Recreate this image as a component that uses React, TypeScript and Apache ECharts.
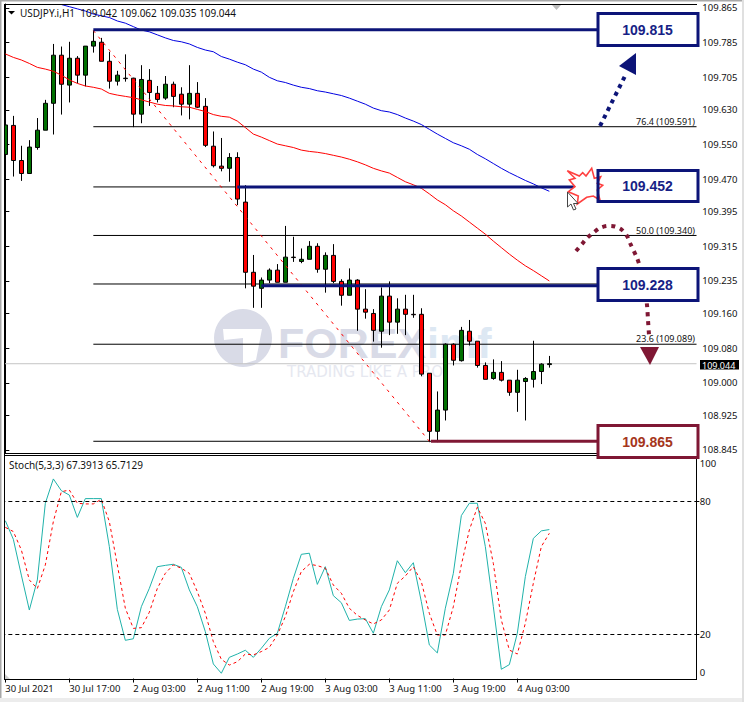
import React, { useEffect, useRef } from "react";
import * as echarts from "echarts";

const timeLabels = ["30 Jul 2021", "30 Jul 17:00", "2 Aug 03:00", "2 Aug 11:00", "2 Aug 19:00", "3 Aug 03:00", "3 Aug 11:00", "3 Aug 19:00", "4 Aug 03:00"];
const slotCount = 87;
const categories = Array.from({ length: slotCount }, (_, i) => (i % 8 === 0 ? timeLabels[i / 8] ?? "" : ""));

const opens = [109.527,109.594,109.513,109.483,109.543,109.583,109.645,109.756,109.687,109.749,109.710,109.777,109.786,109.742,109.696,109.703,109.703,109.620,109.698,109.668,109.657,109.689,109.666,109.643,109.668,109.638,109.546,109.500,109.495,109.520,109.417,109.255,109.218,109.237,109.260,109.232,109.290,109.280,109.285,109.315,109.262,109.294,109.234,109.202,109.237,109.170,109.160,109.119,109.200,109.140,109.170,109.158,109.158,109.022,108.888,108.937,109.089,109.051,109.119,109.096,109.040,109.010,109.024,109.006,108.978,109.003,109.008,109.026,109.042];
const closes = [109.595,109.513,109.483,109.544,109.583,109.645,109.756,109.689,109.749,109.710,109.777,109.788,109.742,109.696,109.710,109.702,109.620,109.700,109.670,109.654,109.689,109.661,109.643,109.668,109.636,109.548,109.501,109.495,109.520,109.424,109.255,109.223,109.237,109.260,109.232,109.290,109.289,109.285,109.315,109.262,109.294,109.234,109.202,109.237,109.170,109.163,109.121,109.200,109.140,109.170,109.158,109.157,109.020,108.888,108.937,109.089,109.052,109.121,109.096,109.040,109.008,109.024,109.006,108.978,109.006,109.010,109.026,109.043,109.044];
const highs = [109.614,109.616,109.547,109.560,109.611,109.653,109.782,109.776,109.787,109.754,109.777,109.813,109.796,109.764,109.720,109.758,109.704,109.733,109.724,109.685,109.708,109.695,109.682,109.733,109.694,109.657,109.580,109.565,109.530,109.532,109.456,109.295,109.243,109.264,109.274,109.362,109.337,109.310,109.327,109.322,109.301,109.320,109.239,109.264,109.239,109.216,109.170,109.220,109.234,109.195,109.203,109.203,109.172,109.022,108.980,109.091,109.091,109.129,109.145,109.096,109.047,109.054,109.050,109.006,109.030,109.013,109.097,109.045,109.062];
const lows = [109.510,109.476,109.466,109.483,109.538,109.583,109.573,109.619,109.647,109.691,109.684,109.762,109.742,109.679,109.686,109.695,109.590,109.599,109.639,109.647,109.653,109.636,109.617,109.608,109.634,109.544,109.497,109.488,109.464,109.410,109.218,109.173,109.173,109.230,109.232,109.232,109.279,109.276,109.285,109.254,109.208,109.230,109.178,109.202,109.120,109.148,109.095,109.081,109.110,109.113,109.110,109.150,109.015,108.863,108.863,108.913,109.040,109.049,109.086,109.035,109.008,109.007,109.003,108.970,108.933,108.913,108.989,108.997,109.035];

const redMA = [109.759,109.751,109.745,109.737,109.728,109.724,109.719,109.710,109.699,109.691,109.685,109.682,109.678,109.668,109.664,109.661,109.658,109.653,109.648,109.643,109.640,109.639,109.637,109.636,109.631,109.626,109.619,109.615,109.613,109.604,109.589,109.574,109.567,109.559,109.551,109.547,109.543,109.537,109.534,109.532,109.529,109.525,109.521,109.516,109.510,109.503,109.495,109.489,109.484,109.474,109.464,109.457,109.449,109.436,109.422,109.411,109.397,109.385,109.371,109.357,109.343,109.327,109.312,109.297,109.283,109.270,109.259,109.247,109.235];
const blueMA = [null,null,null,null,null,null,null,109.873,109.868,109.863,109.858,109.851,109.847,109.843,109.835,109.830,109.822,109.814,109.810,109.803,109.796,109.790,109.787,109.782,109.774,109.768,109.764,109.753,109.747,109.740,109.734,109.724,109.717,109.705,109.697,109.693,109.687,109.682,109.679,109.674,109.671,109.667,109.663,109.657,109.650,109.643,109.634,109.628,109.625,109.619,109.611,109.604,109.596,109.585,109.574,109.564,109.554,109.547,109.539,109.527,109.517,109.506,109.495,109.485,109.476,109.467,109.459,109.450,109.442];

const stochMain = [71.4,63.0,46.8,31.0,44.6,79.3,90.3,85.0,83.0,72.9,81.4,81.4,81.4,59.7,31.3,17.3,18.0,32.5,40.8,50.6,51.2,51.7,50.3,40.1,32.5,21.2,6.6,2.4,9.6,11.1,12.8,9.6,13.7,18.2,20.5,32.5,45.3,56.2,56.7,42.6,50.6,37.5,34.3,26.3,26.9,27.1,20.5,32.5,40.1,53.3,47.9,52.4,34.8,15.2,11.6,31.8,47.6,73.7,79.3,79.3,59.7,32.5,4.2,6.3,20.5,46.1,63.4,66.8,67.4];
const stochSignal = [68.4,66.5,58.2,44.6,40.7,51.4,71.0,84.5,85.3,79.3,79.0,79.0,81.1,71.0,51.4,31.8,22.7,23.0,30.0,40.8,47.6,51.4,49.9,47.6,39.3,29.5,16.7,8.7,6.1,7.6,11.1,10.7,12.2,14.1,19.7,28.0,39.3,48.4,51.7,51.1,49.9,42.3,38.6,31.8,28.6,26.5,24.7,26.5,31.0,43.1,46.4,50.6,43.8,29.5,19.7,19.7,32.5,51.4,67.2,77.5,70.2,52.1,26.5,12.9,11.1,25.0,43.1,59.7,65.7];

const priceTicks = [109.865,109.785,109.705,109.63,109.55,109.47,109.395,109.315,109.235,109.16,109.08,109.0,108.925,108.845];
const stochLabelSpots = [2.7, 20, 80, 97.5];
const stochLabelTexts = ["0", "20", "80", "100"];
const stochLevels = [20, 80];

const fibLevels = [109.591, 109.452, 109.34, 109.228, 109.089, 108.865];
const fibStart = 11;
const fibEnd = 86.4;
const currentPrice = 109.044;
const trendPoints = [[11, 109.813], [53, 108.865]];
const navyLevels = [
  { from: 11, to: 74.2, value: 109.815 },
  { from: 29, to: 71, value: 109.452 },
  { from: 32, to: 74.2, value: 109.224 },
];
const crimsonLevel = { from: 53.2, to: 74.2, value: 108.865 };

const UI = '"Noto Sans", sans-serif';
const NAVY = "#0c1478";
const CRIMSON = "#7f1734";

const box = (y: number, h: number, color: string, label: string, textColor: string) => [
  { type: "rect", z: 60, shape: { x: 598, y, width: 100, height: h }, style: { fill: "#fff", stroke: "none" } },
  { type: "rect", z: 64, shape: { x: 598, y, width: 100, height: h }, style: { fill: "none", stroke: color, lineWidth: 3 } },
  { type: "text", z: 65, style: { text: label, x: 647.5, y: y + h / 2, fill: textColor, font: 'bold 14px "Liberation Sans", sans-serif', align: "center", verticalAlign: "middle" } },
];
const fibText = (y: number, t: string) => ({ type: "text", z: 40, style: { text: t, x: 695, y, fill: "#111", font: `9px ${UI}`, align: "right", verticalAlign: "bottom" } });

const graphics: any[] = [
  // watermark
  { type: "circle", z: 0, shape: { cx: 243, cy: 338, r: 29 }, style: { fill: "#d9dbe7" } },
  { type: "polygon", z: 0, shape: { points: [[223, 329], [262, 329], [256, 360], [243, 364], [243, 338], [224, 340]] }, style: { fill: "#fff" } },
  { type: "text", z: 0, style: { text: "FOREX", x: 278, y: 343, fill: "#d9dbe7", font: 'bold 43px "Liberation Sans", sans-serif', align: "left", verticalAlign: "middle" } },
  { type: "text", z: 0, style: { text: "imf", x: 427, y: 343, fill: "#dde8f3", font: 'bold 43px "Liberation Sans", sans-serif', align: "left", verticalAlign: "middle" } },
  { type: "text", z: 0, style: { text: "TRADING LIKE A PRO", x: 287, y: 372, fill: "#e6e8f0", font: '15px "DejaVu Sans", sans-serif', align: "left", verticalAlign: "middle" } },

  // window + pane frames
  { type: "rect", z: 30, shape: { x: 0, y: 0, width: 4, height: 702 }, style: { fill: "#fff" } },
  { type: "rect", z: 31, shape: { x: 0, y: 0, width: 744, height: 1.5 }, style: { fill: "#a8a8a8" } },
  { type: "rect", z: 31, shape: { x: 0, y: 0, width: 1.5, height: 702 }, style: { fill: "#a8a8a8" } },
  { type: "rect", z: 31, shape: { x: 0, y: 698, width: 744, height: 4 }, style: { fill: "#ececec" } },
  { type: "rect", z: 31, shape: { x: 742, y: 0, width: 2, height: 702 }, style: { fill: "#e0e0e0" } },
  { type: "line", z: 32, shape: { x1: 4.5, y1: 4, x2: 4.5, y2: 679.5 }, style: { stroke: "#000", lineWidth: 1 } },
  { type: "line", z: 32, shape: { x1: 4, y1: 4.5, x2: 697, y2: 4.5 }, style: { stroke: "#000", lineWidth: 1 } },
  { type: "line", z: 32, shape: { x1: 4, y1: 453.5, x2: 697, y2: 453.5 }, style: { stroke: "#000", lineWidth: 1 } },
  { type: "line", z: 32, shape: { x1: 4, y1: 455.5, x2: 697, y2: 455.5 }, style: { stroke: "#000", lineWidth: 1 } },
  { type: "line", z: 32, shape: { x1: 4, y1: 679.5, x2: 697, y2: 679.5 }, style: { stroke: "#000", lineWidth: 1 } },

  // small markers
  { type: "polygon", z: 33, shape: { points: [[8, 11], [15, 11], [11.5, 14.5]] }, style: { fill: "#000" } },
  { type: "polygon", z: 33, shape: { points: [[552, 5], [561, 5], [556.5, 10]] }, style: { fill: "#bdbdbd" } },
  { type: "polygon", z: 33, shape: { points: [[5, 674], [5, 679], [10, 679]] }, style: { fill: "#cfcfcf" } },

  // headers and fib captions
  { type: "text", z: 40, style: { text: "USDJPY.i,H1  109.042 109.062 109.035 109.044", x: 20, y: 12.5, fill: "#111", font: `10px ${UI}`, align: "left", verticalAlign: "middle" } },
  { type: "text", z: 40, style: { text: "Stoch(5,3,3) 67.3913 65.7129", x: 9, y: 464.5, fill: "#111", font: `10px ${UI}`, align: "left", verticalAlign: "middle" } },
  fibText(126, "76.4 (109.591)"),
  fibText(235, "50.0 (109.340)"),
  fibText(343, "23.6 (109.089)"),

  // current price tag
  { type: "rect", z: 40, shape: { x: 700, y: 360, width: 39, height: 9.5 }, style: { fill: "#000" } },
  { type: "text", z: 41, style: { text: "109.044", x: 702, y: 365, fill: "#fff", font: `9px ${UI}`, align: "left", verticalAlign: "middle" } },

  // up arrow
  { type: "line", z: 45, shape: { x1: 600, y1: 126, x2: 626, y2: 74 }, style: { stroke: NAVY, lineWidth: 4, lineDash: [4, 4.5] } },
  { type: "polygon", z: 46, shape: { points: [[636, 53], [619, 66], [636, 75]] }, style: { fill: NAVY } },

  // curved down arrow
  { type: "polyline", z: 45, shape: { points: [[576, 251], [582, 244], [587, 238], [593, 233], [600, 228], [607, 226], [615, 226.5], [622, 230], [627, 236], [630, 243], [637, 258], [640, 267], [644, 285], [647, 305], [648, 320], [649, 335]], smooth: 0.3 }, style: { stroke: CRIMSON, fill: "none", lineWidth: 4, lineDash: [4, 5] } },
  { type: "polygon", z: 46, shape: { points: [[640, 347], [659, 347], [650, 365]] }, style: { fill: CRIMSON } },

  ...box(13.5, 32, NAVY, "109.815", "#171f86"),
  ...box(170.5, 31, NAVY, "109.452", "#171f86"),
  ...box(268.5, 32, NAVY, "109.228", "#171f86"),
  ...box(425.5, 32, CRIMSON, "109.865", "#a5361c"),

  // burst and cursor
  { type: "polygon", z: 62, shape: { points: [[567.3, 170.7], [579.3, 176], [582.7, 172.7], [586, 176], [591.7, 168.3], [594.3, 178.3], [600.7, 176.7], [597.3, 183.3], [602.7, 185.3], [597.3, 190], [600, 200], [593.3, 196], [586.7, 197.3], [577.3, 204], [578.3, 196], [568.3, 191.7], [575, 186.7], [569.3, 180], [575, 178.3]] }, style: { fill: "#fff", stroke: "#ff4040", lineWidth: 1.6 } },
  { type: "polygon", z: 66, shape: { points: [[567.5, 192], [567.5, 207], [571, 204], [573.5, 210], [576, 209], [573.5, 203.5], [578, 203.5]] }, style: { fill: "#fff", stroke: "#444", lineWidth: 1 } },
];

const levelLine = (a: number, b: number, v: number, color: string, width: number, z: number) => ({
  type: "line", xAxisIndex: 1, yAxisIndex: 0, z, silent: true, symbol: "none",
  lineStyle: { color, width }, data: [[a, v], [b, v]],
});

export default function App() {
  const ref = useRef<HTMLDivElement>(null);
  useEffect(() => {
    const chart = echarts.init(ref.current!, undefined, { renderer: "svg" });
    const option: any = {
      animation: false,
      backgroundColor: "#fff",
      grid: [
        { left: 1.33, top: 4, width: 696, height: 449.5 },
        { left: 1.33, top: 455.5, width: 696, height: 223.5 },
      ],
      xAxis: [
        { type: "category", gridIndex: 0, data: categories, boundaryGap: true, axisLine: { show: false }, axisTick: { show: false }, axisLabel: { show: false }, splitLine: { show: false } },
        { type: "value", gridIndex: 0, min: -0.5, max: 86.5, show: false },
        {
          type: "category", gridIndex: 1, data: categories, boundaryGap: true, position: "bottom",
          axisLine: { show: false },
          axisTick: { show: true, alignWithLabel: true, length: 4, interval: (i: number) => i % 8 === 0 && i <= 64, lineStyle: { color: "#000" } },
          axisLabel: { show: true, interval: (i: number) => i % 8 === 0 && i <= 64, align: "left", margin: 4.5, color: "#111", fontFamily: "Noto Sans", fontSize: 9.5, hideOverlap: false },
          splitLine: { show: false },
        },
      ],
      yAxis: [
        {
          type: "value", gridIndex: 0, position: "right", offset: -1, scale: true,
          min: 109.8742, max: 0, splitLine: { show: false },
          axisLine: { show: true, lineStyle: { color: "#000" } },
          axisTick: { show: true, length: 4, customValues: priceTicks, lineStyle: { color: "#000" } },
          axisLabel: { show: true, customValues: priceTicks, margin: 6, color: "#111", fontFamily: "Noto Sans", fontSize: 9.5, formatter: (v: number) => v.toFixed(3) },
        },
        {
          type: "value", gridIndex: 1, position: "right", offset: -1,
          min: -0.2, max: 100.9, splitLine: { show: false },
          axisLine: { show: true, lineStyle: { color: "#000" } },
          axisTick: { show: true, length: 3, customValues: stochLevels, lineStyle: { color: "#000" } },
          axisLabel: {
            show: true, customValues: stochLabelSpots, margin: 3.5, color: "#111", fontFamily: "Noto Sans", fontSize: 9.5,
            formatter: (v: number) => stochLabelTexts[stochLabelSpots.indexOf(v)] ?? "",
          },
        },
      ],
      series: [
        levelLine(-0.5, fibEnd, currentPrice, "#c4c4c4", 1, 1),
        ...fibLevels.map((v) => levelLine(fibStart, fibEnd, v, "#000", 1, 1)),
        {
          type: "candlestick", xAxisIndex: 0, yAxisIndex: 0, z: 5, silent: true, barWidth: 5,
          data: opens.map((o, i) => [o, closes[i], lows[i], highs[i]]),
          itemStyle: { color: "#007000", color0: "#ff0000", borderColor: "#000", borderColor0: "#000", borderColorDoji: "#000", borderWidth: 1 },
        },
        { type: "line", xAxisIndex: 0, yAxisIndex: 0, z: 6, silent: true, symbol: "none", data: redMA, lineStyle: { color: "#ff0000", width: 1 } },
        { type: "line", xAxisIndex: 0, yAxisIndex: 0, z: 6, silent: true, symbol: "none", data: blueMA, lineStyle: { color: "#0000e0", width: 1 } },
        { type: "line", xAxisIndex: 1, yAxisIndex: 0, z: 6, silent: true, symbol: "none", data: trendPoints, lineStyle: { color: "#ff0000", width: 1, type: [3, 5] } },
        ...navyLevels.map((l) => levelLine(l.from, l.to, l.value, NAVY, 3, 7)),
        levelLine(crimsonLevel.from, crimsonLevel.to, crimsonLevel.value, CRIMSON, 3, 7),
        {
          type: "line", xAxisIndex: 2, yAxisIndex: 1, z: 3, silent: true, symbol: "none", data: stochMain, lineStyle: { color: "#20b2aa", width: 1 },
          markLine: { silent: true, symbol: "none", label: { show: false }, lineStyle: { color: "#000", width: 1, type: [4, 3] }, data: stochLevels.map((v) => ({ yAxis: v })) },
        },
        { type: "line", xAxisIndex: 2, yAxisIndex: 1, z: 4, silent: true, symbol: "none", data: stochSignal, lineStyle: { color: "#ff0000", width: 1, type: [3, 3] } },
      ],
      graphic: { elements: graphics },
    };
    option.yAxis[0].min = 108.8368;
    option.yAxis[0].max = 109.8742;
    chart.setOption(option);
    return () => chart.dispose();
  }, []);
  return <div ref={ref} style={{ position: "fixed", left: 0, top: 0, width: 744, height: 702, background: "#fff" }} />;
}
